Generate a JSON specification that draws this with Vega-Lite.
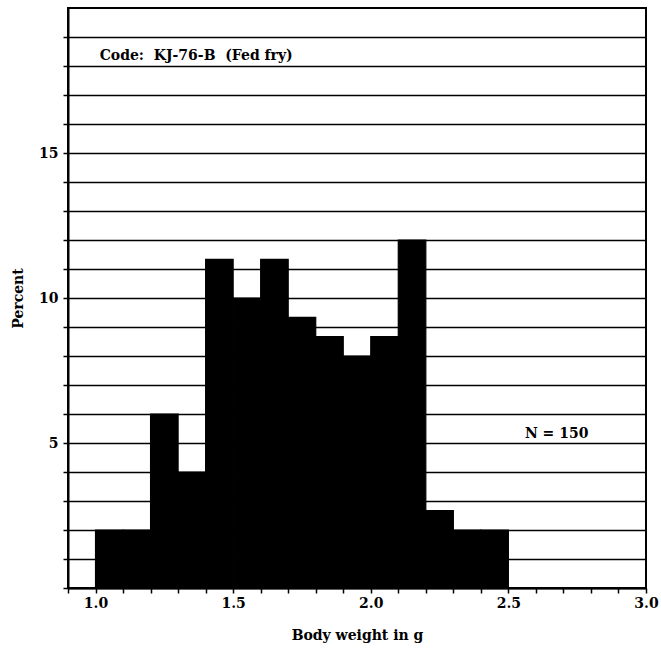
{
  "$schema": "https://vega.github.io/schema/vega-lite/v6.json",
  "autosize": {"type": "none"},
  "width": 578,
  "height": 580,
  "padding": {"left": 68, "top": 8, "right": 15, "bottom": 70},
  "background": "white",
  "config": {
    "font": "DejaVu Serif",
    "view": {"stroke": "black", "strokeWidth": 2},
    "axis": {
      "labelFont": "DejaVu Serif",
      "titleFont": "DejaVu Serif",
      "labelFontSize": 14,
      "titleFontSize": 14,
      "labelFontWeight": "bold",
      "titleFontWeight": "bold",
      "labelColor": "black",
      "titleColor": "black",
      "domainColor": "black",
      "domainWidth": 2,
      "tickColor": "black",
      "tickWidth": 1.5,
      "tickSize": 5,
      "labelOverlap": false
    }
  },
  "datasets": {
    "bins": [
      {"lo": 1.0, "hi": 1.1, "pct": 2.0},
      {"lo": 1.1, "hi": 1.2, "pct": 2.0},
      {"lo": 1.2, "hi": 1.3, "pct": 6.0},
      {"lo": 1.3, "hi": 1.4, "pct": 4.0},
      {"lo": 1.4, "hi": 1.5, "pct": 11.33},
      {"lo": 1.5, "hi": 1.6, "pct": 10.0},
      {"lo": 1.6, "hi": 1.7, "pct": 11.33},
      {"lo": 1.7, "hi": 1.8, "pct": 9.33},
      {"lo": 1.8, "hi": 1.9, "pct": 8.67},
      {"lo": 1.9, "hi": 2.0, "pct": 8.0},
      {"lo": 2.0, "hi": 2.1, "pct": 8.67},
      {"lo": 2.1, "hi": 2.2, "pct": 12.0},
      {"lo": 2.2, "hi": 2.3, "pct": 2.67},
      {"lo": 2.3, "hi": 2.4, "pct": 2.0},
      {"lo": 2.4, "hi": 2.5, "pct": 2.0}
    ],
    "notes": [
      {"x": 1.015, "y": 18.35, "label": "Code:\u00a0 KJ-76-B\u00a0 (Fed fry)"},
      {"x": 2.56, "y": 5.3, "label": "N = 150"}
    ]
  },
  "layer": [
    {
      "data": {"name": "bins"},
      "mark": {"type": "bar", "color": "black", "stroke": "black", "strokeWidth": 1.2},
      "encoding": {
        "x": {
          "field": "lo", "type": "quantitative",
          "scale": {"domain": [0.9, 3.0], "nice": false, "zero": false},
          "axis": {
            "title": "Body weight in g",
            "titlePadding": 18,
            "grid": false,
            "tickCount": 50,
            "values": [0.9, 1.0, 1.1, 1.2, 1.3, 1.4, 1.5, 1.6, 1.7, 1.8, 1.9, 2.0, 2.1, 2.2, 2.3, 2.4, 2.5, 2.6, 2.7, 2.8, 2.9, 3.0],
            "format": ".1f",
            "labelExpr": "abs(datum.value*2 - round(datum.value*2)) < 0.001 ? datum.label : ''",
            "labelPadding": 3,
            "labelFlush": false
          }
        },
        "x2": {"field": "hi"},
        "y": {
          "field": "pct", "type": "quantitative",
          "scale": {"domain": [0, 20], "nice": false},
          "axis": {
            "title": "Percent",
            "titlePadding": 13,
            "tickCount": 50,
            "format": "d",
            "values": [0, 1, 2, 3, 4, 5, 6, 7, 8, 9, 10, 11, 12, 13, 14, 15, 16, 17, 18, 19],
            "labelExpr": "(datum.value == 5 || datum.value == 10 || datum.value == 15) ? datum.label : ''",
            "grid": true,
            "gridColor": "black",
            "gridWidth": 1.5,
            "gridOpacity": 1,
            "labelPadding": 5
          }
        },
        "y2": {"datum": 0}
      }
    },
    {
      "data": {"name": "notes"},
      "mark": {"type": "text", "align": "left", "baseline": "middle", "font": "DejaVu Serif", "fontSize": 14, "fontWeight": "bold", "color": "black"},
      "encoding": {
        "x": {"field": "x", "type": "quantitative"},
        "y": {"field": "y", "type": "quantitative"},
        "text": {"field": "label"}
      }
    }
  ]
}
